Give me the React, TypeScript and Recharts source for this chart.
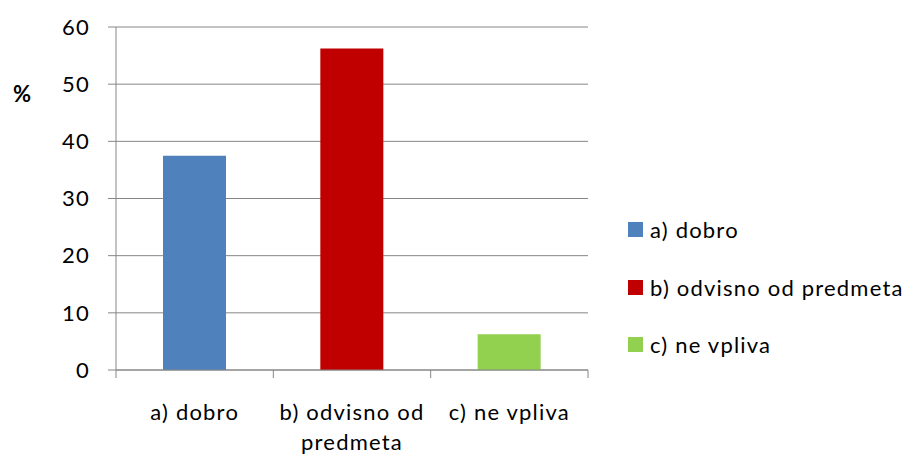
import React from 'react';
import { BarChart, Bar, XAxis, YAxis, CartesianGrid, Cell } from 'recharts';

const categories = ['a) dobro', 'b) odvisno od predmeta', 'c) ne vpliva'];
const categoryLines = [['a) dobro'], ['b) odvisno od', 'predmeta'], ['c) ne vpliva']];
const values = [37.5, 56.25, 6.25];
const colors = ['#4F81BD', '#C00000', '#92D050'];
const yTicks = [0, 10, 20, 30, 40, 50, 60];
const yLabel = '%';

const data = categories.map((c, i) => ({ name: c, value: values[i] }));

const FONT = 'Lato, "Open Sans", sans-serif';
const FS = 22;
const LS = 1.2;
const AXIS = '#868686';

const CatTick = (props: any) => {
  const { x, y, payload, index, visibleTicksCount } = props;
  const half = payload && payload.offset ? payload.offset : 78.7;
  const lines = categoryLines[index] || [String(payload.value)];
  const top = y - 8;
  return (
    <g>
      <line x1={x - half} x2={x - half} y1={top} y2={top + 8} stroke={AXIS} strokeWidth={1} />
      {index === (visibleTicksCount ?? 3) - 1 && (
        <line x1={x + half} x2={x + half} y1={top} y2={top + 8} stroke={AXIS} strokeWidth={1} />
      )}
      {lines.map((l, i) => (
        <text key={i} x={x} y={top + 50 + i * 30} textAnchor="middle" fontSize={FS} fill="#000" fontFamily={FONT} letterSpacing={LS}>
          {l}
        </text>
      ))}
    </g>
  );
};

export default function App() {
  return (
    <div style={{ position: 'absolute', left: 0, top: 0, width: 912, height: 455, background: '#fff' }}>
      <BarChart width={912} height={455} data={data} margin={{ top: 27, right: 324, bottom: 0, left: 46 }}>
        <CartesianGrid vertical={false} stroke={AXIS} strokeWidth={1} />
        <XAxis
          dataKey="name"
          axisLine={{ stroke: AXIS }}
          tickLine={false}
          height={85}
          interval={0}
          tick={<CatTick />}
        />
        <YAxis
          domain={[0, 60]}
          ticks={yTicks}
          width={70}
          axisLine={{ stroke: AXIS }}
          tickLine={{ stroke: AXIS }}
          tickSize={8}
          tickMargin={18}
          tick={{ fontSize: FS, fill: '#000', fontFamily: FONT, letterSpacing: LS }}
        />
        <Bar dataKey="value" barSize={63} isAnimationActive={false}>
          {data.map((d, i) => (
            <Cell key={d.name} fill={colors[i]} />
          ))}
        </Bar>
      </BarChart>
      <div style={{ position: 'absolute', left: 13, top: 80, fontFamily: FONT, fontSize: FS, fontWeight: 'bold', color: '#000' }}>
        {yLabel}
      </div>
      <div style={{ position: 'absolute', left: 628, top: 201, fontFamily: FONT, fontSize: FS, letterSpacing: LS, color: '#000' }}>
        {categories.map((c, i) => (
          <div key={c} style={{ display: 'flex', alignItems: 'center', height: 57.5, whiteSpace: 'nowrap' }}>
            <span style={{ display: 'inline-block', width: 15, height: 15, background: colors[i], marginRight: 7 }} />
            <span>{c}</span>
          </div>
        ))}
      </div>
    </div>
  );
}
